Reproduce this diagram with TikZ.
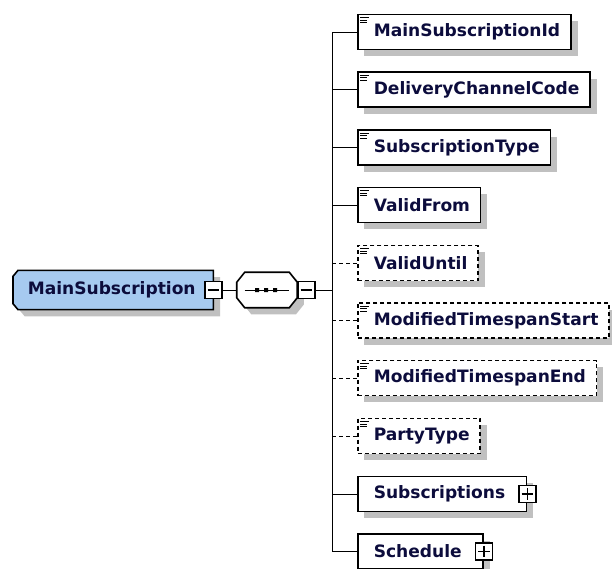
\documentclass[tikz,border=0pt]{standalone}
\usepackage{fontspec}
\setmainfont{DejaVu Sans}
\usetikzlibrary{calc,shadows}

\definecolor{elemblue}{RGB}{166,202,240}
\definecolor{elemtext}{RGB}{12,12,60}
\definecolor{shadowgray}{RGB}{192,192,192}

\pgfdeclarelayer{background}
\pgfsetlayers{background,main}

\tikzset{every picture/.style={line width=1pt},
  boxshadow/.style={drop shadow={shadow xshift=5pt,shadow yshift=-5pt,fill=shadowgray,opacity=1}},
  elemfont/.style={text=elemtext,font=\fontsize{12.8}{14}\selectfont\bfseries},
  elem/.style={draw,line width=1.2pt,fill=white,anchor=west,minimum height=26.25pt,inner xsep=8pt,inner ysep=0pt,elemfont,execute at begin node={\hspace*{4pt}},boxshadow},
  optelem/.style={elem,dash pattern=on 3pt off 2.25pt},
  toggle/.style={draw,line width=1.1pt,fill=white,minimum size=12.75pt,inner sep=0pt},
  minusbox/.style={toggle,path picture={\draw[shorten <=2pt,shorten >=2pt] (path picture bounding box.west) -- (path picture bounding box.east);}},
  plusbox/.style={toggle,path picture={\draw[shorten <=2pt,shorten >=2pt] (path picture bounding box.west) -- (path picture bounding box.east);
      \draw[shorten <=2pt,shorten >=2pt] (path picture bounding box.north) -- (path picture bounding box.south);}},
  optline/.style={dash pattern=on 3pt off 2.25pt}
}

\begin{document}
\begin{tikzpicture}[x=0.75pt,y=0.75pt,yscale=-1,xscale=1]
\useasboundingbox (0,0) rectangle (612,569);

%Shape: Element [id:main]
\draw (13,290) node [anchor=west,minimum width=149.25pt,minimum height=28.5pt,inner xsep=10.5pt,inner ysep=0pt,text width=128pt,align=left,elemfont] (main) {MainSubscription};
\begin{pgfonlayer}{background}
\draw [line width=1.2pt,fill=elemblue,boxshadow] ($(main.north west)+(5,0)$) -- (main.north east) -- (main.south east) -- ($(main.south west)+(5,0)$) -- ($(main.south west)+(0,-6)$) -- ($(main.north west)+(0,6)$) -- cycle ;
\end{pgfonlayer}
\draw (main.east) node [minusbox] (mainm) {};

%Shape: Sequence [id:seq]
\draw (267,290) node [minimum width=45pt,minimum height=26.25pt,inner sep=0pt] (seq) {};
\begin{pgfonlayer}{background}
\draw [line width=1.2pt,fill=white,boxshadow] ($(seq.north west)+(8,0)$) -- ($(seq.north east)+(-8,0)$) -- ($(seq.north east)+(0,10)$) -- ($(seq.south east)+(0,-10)$) -- ($(seq.south east)+(-8,0)$) -- ($(seq.south west)+(8,0)$) -- ($(seq.south west)+(0,-10)$) -- ($(seq.north west)+(0,10)$) -- cycle ;
\end{pgfonlayer}
\draw (seq.west) ++(8,0) -- ++(44,0) ;
\fill (seq.center) ++(-12,-2) rectangle ++(4,4) ++(5,-4) rectangle ++(4,4) ++(5,-4) rectangle ++(4,4) ;
\draw (seq.east) node [minusbox,anchor=west] (seqm) {};

% Children
\draw (357,32) node [elem] (msid) {MainSubscriptionId};
\draw (357,89.5) node [elem] (dcc) {DeliveryChannelCode};
\draw (357,147.5) node [elem] (stype) {SubscriptionType};
\draw (357,205) node [elem] (vfrom) {ValidFrom};
\draw (357,263) node [optelem] (vuntil) {ValidUntil};
\draw (357,320.5) node [optelem] (mtstart) {ModifiedTimespanStart};
\draw (357,378) node [optelem] (mtend) {ModifiedTimespanEnd};
\draw (357,436) node [optelem] (ptype) {PartyType};
\draw (357,494) node [elem] (subs) {Subscriptions\hspace*{8pt}};
\draw (357,551.5) node [elem] (sched) {Schedule\hspace*{8pt}};
\draw (subs.east) node [plusbox] (subsp) {};
\draw (sched.east) node [plusbox] (schedp) {};

% Simple type marks
\foreach \n in {msid,dcc,stype,vfrom,vuntil,mtstart,mtend,ptype}
  \draw [line width=0.7pt] (\n.north west) ++(3,4) -- ++(9,0) ++(-9,2.5) -- ++(7,0) ++(-7,2.5) -- ++(7,0) ;

%Straight Lines
\coordinate (bus) at (332,290);
\draw (mainm.east) -- (seq.west) ;
\draw (seqm.east) -- (bus) ;
\draw (bus |- msid.west) -- (bus |- sched.west) ;
\draw (bus |- msid.west) -- (msid.west) ;
\draw (bus |- dcc.west) -- (dcc.west) ;
\draw (bus |- stype.west) -- (stype.west) ;
\draw (bus |- vfrom.west) -- (vfrom.west) ;
\draw [optline] (bus |- vuntil.west) -- (vuntil.west) ;
\draw [optline] (bus |- mtstart.west) -- (mtstart.west) ;
\draw [optline] (bus |- mtend.west) -- (mtend.west) ;
\draw [optline] (bus |- ptype.west) -- (ptype.west) ;
\draw (bus |- subs.west) -- (subs.west) ;
\draw (bus |- sched.west) -- (sched.west) ;

\end{tikzpicture}
\end{document}
